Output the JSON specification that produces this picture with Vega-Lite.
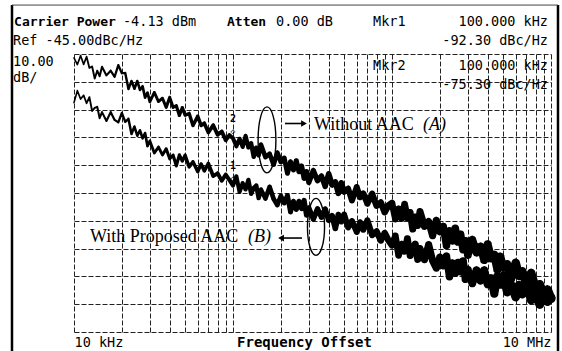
{
  "$schema": "https://vega.github.io/schema/vega-lite/v6.json",
  "width": 477,
  "height": 278,
  "autosize": {"type": "none"},
  "padding": {"left": 74, "top": 54, "right": 11, "bottom": 19},
  "background": "white",
  "config": {"view": {"stroke": null}, "font": "DejaVu Sans Mono"},
  "datasets": {
    "trace": [
      {"f":10,"A":-46.4,"B":-62.5},{"f":10.5,"A":-48.8,"B":-58.2},{"f":11,"A":-45.6,"B":-61.2},{"f":11.5,"A":-48.7,"B":-59.9},
      {"f":12,"A":-46.0,"B":-62.7},{"f":12.5,"A":-50.0,"B":-60.5},{"f":13,"A":-49.5,"B":-65.5},{"f":13.5,"A":-53.8,"B":-64.4},
      {"f":14,"A":-51.0,"B":-64.0},{"f":14.5,"A":-53.0,"B":-68.1},{"f":15,"A":-49.6,"B":-65.9},{"f":16,"A":-52.7,"B":-69.1},
      {"f":17,"A":-51.0,"B":-65.9},{"f":18,"A":-53.2,"B":-68.7},{"f":19,"A":-49.0,"B":-69.6},{"f":20,"A":-51.9,"B":-66.2},
      {"f":21,"A":-51.8,"B":-69.4},{"f":22,"A":-57.6,"B":-68.3},{"f":23,"A":-54.7,"B":-73.8},{"f":24,"A":-57.5,"B":-71.1},
      {"f":25,"A":-54.7,"B":-74.4},{"f":26,"A":-57.9,"B":-72.5},{"f":27,"A":-56.6,"B":-75.3},{"f":28,"A":-60.7,"B":-73.5},
      {"f":29,"A":-58.9,"B":-78.1},{"f":30,"A":-62.2,"B":-76.3},{"f":32,"A":-58.8,"B":-80.6},{"f":34,"A":-62.1,"B":-78.5},
      {"f":36,"A":-60.9,"B":-81.3},{"f":38,"A":-64.2,"B":-79.1},{"f":40,"A":-60.6,"B":-82.7},{"f":42,"A":-64.2,"B":-81.4},
      {"f":44,"A":-63.6,"B":-85.2},{"f":46,"A":-67.1,"B":-81.3},{"f":48,"A":-64.3,"B":-83.5},{"f":50,"A":-67.0,"B":-81.4},
      {"f":53,"A":-66.4,"B":-85.6},{"f":56,"A":-70.7,"B":-83.8},{"f":60,"A":-67.4,"B":-87.3},{"f":63,"A":-70.7,"B":-84.6},
      {"f":66,"A":-69.9,"B":-87.0},{"f":70,"A":-73.2,"B":-84.4},{"f":75,"A":-70.6,"B":-88.9},{"f":80,"A":-74.0,"B":-87.9},
      {"f":85,"A":-72.9,"B":-90.6},{"f":90,"A":-76.0,"B":-88.4},{"f":95,"A":-74.2,"B":-90.4},
      {"f":100,"A":-75.3,"B":-92.3},{"f":105,"A":-78.2,"B":-89.0},{"f":110,"A":-75.5,"B":-94.6},{"f":115,"A":-78.4,"B":-91.5},
      {"f":120,"A":-74.5,"B":-93.7},{"f":125,"A":-78.6,"B":-90.3},{"f":130,"A":-77.1,"B":-95.3},{"f":135,"A":-82.0,"B":-93.2},
      {"f":140,"A":-78.7,"B":-92.3},{"f":145,"A":-81.4,"B":-96.8},{"f":150,"A":-77.6,"B":-93.8},{"f":160,"A":-82.1,"B":-97.0},
      {"f":170,"A":-80.9,"B":-92.8},{"f":180,"A":-84.8,"B":-97.1},{"f":190,"A":-80.5,"B":-99.3},{"f":200,"A":-83.8,"B":-96.1},
      {"f":210,"A":-82.4,"B":-98.6},{"f":220,"A":-87.9,"B":-95.9},{"f":230,"A":-83.8,"B":-101.8},{"f":240,"A":-86.7,"B":-98.0},
      {"f":250,"A":-83.4,"B":-100.9},{"f":260,"A":-87.3,"B":-98.0},{"f":270,"A":-85.3,"B":-100.6},{"f":280,"A":-89.7,"B":-97.7},
      {"f":290,"A":-87.3,"B":-102.9},{"f":300,"A":-91.2,"B":-100.4},{"f":320,"A":-86.9,"B":-104.4},{"f":340,"A":-90.6,"B":-100.7},
      {"f":360,"A":-88.9,"B":-103.7},{"f":380,"A":-92.6,"B":-100.8},{"f":400,"A":-88.1,"B":-104.8},{"f":420,"A":-92.1,"B":-103.2},
      {"f":440,"A":-91.0,"B":-107.7},{"f":460,"A":-95.1,"B":-102.8},{"f":480,"A":-91.4,"B":-105.3},{"f":500,"A":-94.6,"B":-102.7},
      {"f":530,"A":-93.4,"B":-107.4},{"f":560,"A":-97.7,"B":-105.1},{"f":600,"A":-92.9,"B":-109.0},{"f":630,"A":-96.5,"B":-105.6},
      {"f":660,"A":-95.2,"B":-108.2},{"f":700,"A":-98.8,"B":-104.9},{"f":750,"A":-95.3,"B":-110.1},{"f":800,"A":-99.6,"B":-108.8},
      {"f":850,"A":-98.4,"B":-112.1},{"f":900,"A":-101.9,"B":-109.4},{"f":950,"A":-99.5,"B":-112.0},
      {"f":1000,"A":-98.6,"B":-113.8},{"f":1050,"A":-104.4,"B":-110.4},{"f":1100,"A":-100.7,"B":-117.4},{"f":1150,"A":-104.2,"B":-113.4},
      {"f":1200,"A":-99.0,"B":-116.0},{"f":1250,"A":-103.9,"B":-111.4},{"f":1300,"A":-102.0,"B":-117.5},{"f":1350,"A":-108.0,"B":-114.8},
      {"f":1400,"A":-103.6,"B":-113.4},{"f":1450,"A":-106.7,"B":-118.9},{"f":1500,"A":-101.7,"B":-115.0},{"f":1600,"A":-107.0,"B":-119.0},
      {"f":1700,"A":-105.3,"B":-113.6},{"f":1800,"A":-110.3,"B":-119.3},{"f":1900,"A":-104.9,"B":-122.0},{"f":2000,"A":-108.9,"B":-118.1},
      {"f":2100,"A":-107.0,"B":-121.2},{"f":2200,"A":-113.9,"B":-117.7},{"f":2300,"A":-108.6,"B":-125.1},{"f":2400,"A":-112.2,"B":-120.2},
      {"f":2500,"A":-107.7,"B":-123.8},{"f":2600,"A":-112.6,"B":-120.0},{"f":2700,"A":-109.9,"B":-123.3},{"f":2800,"A":-115.4,"B":-119.5},
      {"f":2900,"A":-112.2,"B":-126.0},{"f":3000,"A":-117.3,"B":-122.6},{"f":3200,"A":-111.8,"B":-127.5},{"f":3400,"A":-116.4,"B":-122.8},
      {"f":3600,"A":-114.3,"B":-126.5},{"f":3800,"A":-119.1,"B":-122.8},{"f":4000,"A":-113.5,"B":-127.8},{"f":4200,"A":-118.5,"B":-125.7},
      {"f":4400,"A":-117.3,"B":-131.2},{"f":4600,"A":-122.5,"B":-125.0},{"f":4800,"A":-117.9,"B":-128.0},{"f":5000,"A":-121.9,"B":-124.7},
      {"f":5300,"A":-120.6,"B":-130.7},{"f":5600,"A":-126.0,"B":-127.8},{"f":6000,"A":-120.1,"B":-132.5},{"f":6300,"A":-124.8,"B":-128.1},
      {"f":6600,"A":-123.2,"B":-131.4},{"f":7000,"A":-127.9,"B":-127.0},{"f":7500,"A":-123.8,"B":-133.5},{"f":8000,"A":-129.4,"B":-131.5},
      {"f":8500,"A":-127.9,"B":-135.1},{"f":9000,"A":-132.6,"B":-131.4},{"f":9500,"A":-129.8,"B":-134.0},{"f":10000,"A":-133.0,"B":-132.6}
    ],
    "markers": [
      {"f":100,"dB":-75.3,"m":"2"},
      {"f":100,"dB":-92.3,"m":"1"}
    ],
    "headerLeft": [
      {"f":20.33,"dB":-33.5,"t":"-4.13 dBm"},
      {"f":186.4,"dB":-33.5,"t":"0.00 dB"},
      {"f":759.5,"dB":-33.5,"t":"Mkr1"},
      {"f":4.135,"dB":-40.3,"t":"Ref -45.00dBc/Hz"},
      {"f":4.135,"dB":-47.8,"t":"10.00"},
      {"f":4.135,"dB":-53.6,"t":"dB/"},
      {"f":759.5,"dB":-49.3,"t":"Mkr2"}
    ],
    "headerRight": [
      {"f":9574,"dB":-33.5,"t":"100.000 kHz"},
      {"f":9574,"dB":-40.3,"t":"-92.30 dBc/Hz"},
      {"f":9574,"dB":-49.3,"t":"100.000 kHz"},
      {"f":9574,"dB":-56.2,"t":"-75.30 dBc/Hz"}
    ],
    "headerBold": [
      {"f":4.2,"dB":-33.5,"t":"Carrier Power"},
      {"f":91.68,"dB":-33.5,"t":"Atten"}
    ],
    "notes": [
      {"f":323.1,"dB":-70.6,"t":"Without AAC"},
      {"f":12.6,"dB":-110.8,"t":"With Proposed AAC"}
    ],
    "notesItalic": [
      {"f":1567,"dB":-70.6,"t":"(A)"},
      {"f":124.3,"dB":-110.8,"t":"(B)"}
    ],
    "arrows": [
      {"f":212.3,"f2":279.6,"dB":-70.0},
      {"f":200.4,"f2":271.6,"dB":-111.2}
    ],
    "heads": [
      {"f":279.6,"dB":-70.0,"dir":"r"},
      {"f":200.4,"dB":-111.2,"dir":"l"}
    ]
  },
  "encoding": {
    "x": {
      "field": "f", "type": "quantitative",
      "scale": {"type": "log", "domain": [10, 10000], "nice": false},
      "axis": {
        "values": [10,20,30,40,50,60,70,80,90,100,200,300,400,500,600,700,800,900,1000,2000,3000,4000,5000,6000,7000,8000,9000,10000],
        "grid": true, "gridColor": "#222", "gridDash": [5, 2], "gridWidth": 1,
        "ticks": false, "domain": false,
        "labelExpr": "datum.value == 10 ? '10 kHz' : (datum.value == 10000 ? '10 MHz' : '')",
        "labelFlush": true, "labelOverlap": false,
        "labelFont": "DejaVu Sans Mono", "labelFontSize": 13.5, "labelColor": "black",
        "labelBaseline": "middle", "labelPadding": 10,
        "title": "Frequency Offset", "titleFont": "DejaVu Sans Mono", "titleFontSize": 14,
        "titleFontWeight": "bold", "titleColor": "black",
        "titleX": 230, "titleY": 10, "titleBaseline": "middle", "titleAnchor": "middle"
      }
    },
    "y": {
      "field": "dB", "type": "quantitative",
      "scale": {"domain": [-145, -45], "nice": false, "zero": false},
      "axis": {
        "values": [-145,-135,-125,-115,-105,-95,-85,-75,-65,-55,-45],
        "grid": true, "gridColor": "#222", "gridDash": [5, 2], "gridWidth": 1,
        "ticks": false, "domain": false, "labels": false, "title": null
      }
    }
  },
  "layer": [
    {
      "data": {"name": "trace"},
      "transform": [{"fold": ["A", "B"], "as": ["trace", "dB"]}],
      "mark": {"type": "trail", "color": "black"},
      "encoding": {
        "detail": {"field": "trace", "type": "nominal"},
        "size": {"field": "f", "type": "quantitative", "scale": {"type": "log", "range": [1.6, 9]}, "legend": null}
      }
    },
    {
      "data": {"name": "markers"},
      "mark": {"type": "text", "text": "◇", "fontSize": 8, "dy": -6, "color": "black"}
    },
    {
      "data": {"name": "markers"},
      "mark": {"type": "text", "fontSize": 10, "fontWeight": "bold", "dy": -19, "color": "black", "font": "DejaVu Sans Mono"},
      "encoding": {"text": {"field": "m"}}
    },
    {
      "data": {"values": [{"f": 163.6, "dB": -75.9}]},
      "mark": {"type": "point", "shape": "M0,-1A0.27,1 0 1,1 0,1A0.27,1 0 1,1 0,-1Z", "size": 4356, "filled": false, "stroke": "black", "strokeWidth": 1.4, "opacity": 1}
    },
    {
      "data": {"values": [{"f": 332.7, "dB": -107.2}]},
      "mark": {"type": "point", "shape": "M0,-1A0.3,1 0 1,1 0,1A0.3,1 0 1,1 0,-1Z", "size": 3249, "filled": false, "stroke": "black", "strokeWidth": 1.4, "opacity": 1}
    },
    {
      "data": {"name": "arrows"},
      "mark": {"type": "rule", "color": "black", "strokeWidth": 1.6},
      "encoding": {"x2": {"field": "f2"}}
    },
    {
      "data": {"name": "heads"},
      "mark": {"type": "point", "filled": true, "color": "black", "size": 45, "opacity": 1},
      "encoding": {"shape": {"field": "dir", "type": "nominal", "scale": {"domain": ["r", "l"], "range": ["triangle-right", "triangle-left"]}, "legend": null}}
    },
    {
      "data": {"name": "notes"},
      "mark": {"type": "text", "align": "left", "baseline": "middle", "font": "Liberation Serif", "fontSize": 18, "color": "black"},
      "encoding": {"text": {"field": "t"}}
    },
    {
      "data": {"name": "notesItalic"},
      "mark": {"type": "text", "align": "left", "baseline": "middle", "font": "Liberation Serif", "fontSize": 18, "fontStyle": "italic", "color": "black"},
      "encoding": {"text": {"field": "t"}}
    },
    {
      "data": {"name": "headerLeft"},
      "mark": {"type": "text", "align": "left", "baseline": "middle", "font": "DejaVu Sans Mono", "fontSize": 13.5, "color": "black"},
      "encoding": {"text": {"field": "t"}}
    },
    {
      "data": {"name": "headerRight"},
      "mark": {"type": "text", "align": "right", "baseline": "middle", "font": "DejaVu Sans Mono", "fontSize": 13.5, "color": "black"},
      "encoding": {"text": {"field": "t"}}
    },
    {
      "data": {"name": "headerBold"},
      "mark": {"type": "text", "align": "left", "baseline": "middle", "font": "DejaVu Sans Mono", "fontSize": 13, "fontWeight": "bold", "color": "black"},
      "encoding": {"text": {"field": "t"}}
    },
    {
      "data": {"values": [{"f": 4.074, "f2": 4.074, "dB": -27.4, "dB2": -152}, {"f": 11066, "f2": 11066, "dB": -27.4, "dB2": -152}]},
      "mark": {"type": "rule", "color": "black", "strokeWidth": 2.5},
      "encoding": {"x2": {"field": "f2"}, "y2": {"field": "dB2"}}
    },
    {
      "data": {"values": [{"f": 4.074, "f2": 11066, "dB": -27.4}]},
      "mark": {"type": "rule", "color": "#444", "strokeWidth": 1},
      "encoding": {"x2": {"field": "f2"}}
    }
  ]
}
